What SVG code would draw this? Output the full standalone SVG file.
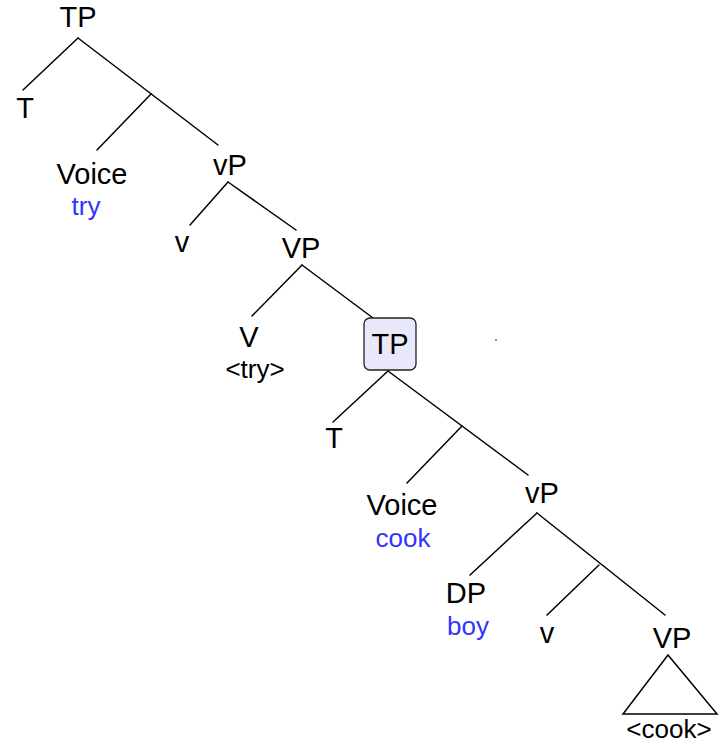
<svg xmlns="http://www.w3.org/2000/svg" width="720" height="746" viewBox="0 0 720 746">
  <style>
    .lbl { font-family: "Liberation Sans", Arial, Helvetica, sans-serif; font-size: 29px; fill: #000; text-anchor: middle; }
    .word { font-family: "Liberation Sans", Arial, Helvetica, sans-serif; font-size: 26px; fill: #3333ff; text-anchor: middle; }
    .trace { font-family: "Liberation Sans", Arial, Helvetica, sans-serif; font-size: 26px; fill: #000; text-anchor: middle; }
    .edge { stroke: #000; stroke-width: 1.5; fill: none; stroke-linecap: round; }
    .hl { fill: #e8e8fa; stroke: #222; stroke-width: 1.3; }
  </style>
  <rect width="720" height="746" fill="#fff"/>

  <!-- tree branches -->
  <g id="connectors" class="edge">
    <!-- upper TP -->
    <line x1="78" y1="38" x2="23" y2="90"/>
    <line x1="78" y1="38" x2="218" y2="145"/>
    <line x1="151" y1="94" x2="97" y2="150"/>
    <!-- upper vP -->
    <line x1="228" y1="182" x2="190" y2="225"/>
    <line x1="228" y1="182" x2="296" y2="230"/>
    <!-- upper VP -->
    <line x1="302" y1="265" x2="252" y2="316"/>
    <line x1="302" y1="265" x2="373" y2="318"/>
    <!-- embedded TP -->
    <line x1="388" y1="371" x2="333" y2="422"/>
    <line x1="388" y1="371" x2="528" y2="475"/>
    <line x1="462" y1="426" x2="407" y2="483"/>
    <!-- lower vP -->
    <line x1="537" y1="513" x2="470" y2="575"/>
    <line x1="537" y1="513" x2="665" y2="615"/>
    <line x1="599" y1="565" x2="547" y2="615"/>
    <!-- lower VP triangle -->
    <polygon points="668,655 623,714 717,714"/>
  </g>

  <g id="tp1"><text class="lbl" x="78" y="27">TP</text></g>
  <g id="t1"><text class="lbl" x="25" y="118">T</text></g>
  <g id="voice1">
    <text class="lbl" x="92" y="184">Voice</text>
    <text class="word" x="86" y="215">try</text>
  </g>
  <g id="vp1"><text class="lbl" x="230" y="175">vP</text></g>
  <g id="v1"><text class="lbl" x="182" y="252">v</text></g>
  <g id="VP1"><text class="lbl" x="301" y="258">VP</text></g>
  <g id="V1">
    <text class="lbl" x="249" y="347">V</text>
    <text class="trace" x="255" y="378">&lt;try&gt;</text>
  </g>
  <g id="tp2">
    <rect class="hl" x="364" y="318" width="52" height="52" rx="6"/>
    <text class="lbl" x="390" y="354">TP</text>
  </g>
  <circle cx="496" cy="340" r="0.8" fill="#000"/>
  <g id="t2"><text class="lbl" x="334" y="448">T</text></g>
  <g id="voice2">
    <text class="lbl" x="402" y="515">Voice</text>
    <text class="word" x="403" y="547">cook</text>
  </g>
  <g id="vp2"><text class="lbl" x="542" y="503">vP</text></g>
  <g id="dp">
    <text class="lbl" x="466" y="603">DP</text>
    <text class="word" x="468" y="635">boy</text>
  </g>
  <g id="v2"><text class="lbl" x="547" y="643">v</text></g>
  <g id="VP2">
    <text class="lbl" x="672" y="648">VP</text>
    <text class="trace" x="669" y="738">&lt;cook&gt;</text>
  </g>
</svg>
